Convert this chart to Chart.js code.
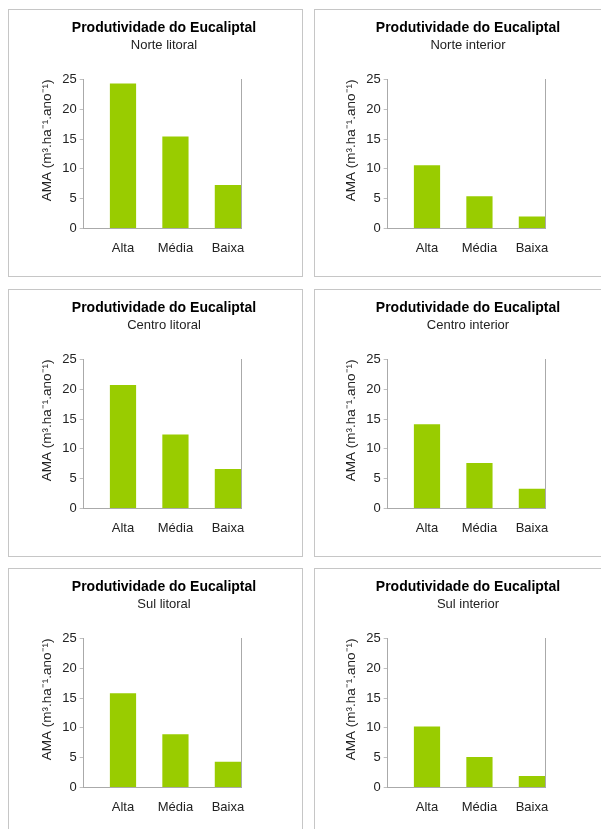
<!DOCTYPE html>
<html>
<head>
<meta charset="utf-8">
<script src="https://cdn.jsdelivr.net/npm/chart.js@4/dist/chart.umd.min.js"></script>
<style>
  body { margin: 0; background: #fff; width: 601px; height: 829px; overflow: hidden; position: relative; }
  .panel { position: absolute; width: 293px; height: 266px; border: 1px solid #c6c6c6; background: #fff; }
  .panel canvas { display: block; }
</style>
</head>
<body>
<div class="panel" style="left:8px;top:9px"><canvas id="c1" width="293" height="266"></canvas></div>
<div class="panel" style="left:314px;top:9px"><canvas id="c2" width="293" height="266"></canvas></div>
<div class="panel" style="left:8px;top:289px"><canvas id="c3" width="293" height="266"></canvas></div>
<div class="panel" style="left:314px;top:289px"><canvas id="c4" width="293" height="266"></canvas></div>
<div class="panel" style="left:8px;top:568px"><canvas id="c5" width="293" height="266"></canvas></div>
<div class="panel" style="left:314px;top:568px"><canvas id="c6" width="293" height="266"></canvas></div>
<script>
// categorias e valores
var categories = ['Alta', 'Média', 'Baixa'];
var chartTitle = 'Produtividade do Eucaliptal';
var yLabel = 'AMA (m³.ha⁻¹.ano⁻¹)';

var norteLitoral = [24.3, 15.4, 7.3];
var norteInterior = [10.6, 5.4, 2.0];
var centroLitoral = [20.7, 12.4, 6.6];
var centroInterior = [14.1, 7.6, 3.3];
var sulLitoral = [15.8, 8.9, 4.3];
var sulInterior = [10.2, 5.1, 1.9];

Chart.defaults.font.family = '"Liberation Sans", Arial, sans-serif';
Chart.defaults.color = '#222';

var axisColor = '#aaaaaa';
var barColor = '#99cc00';

// um gráfico por região; shift desloca a coluna da direita
function makeChart(id, region, values, shift) {
    var ctx = document.getElementById(id);
    return new Chart(ctx, {
        type: 'bar',
        data: {
            datasets: [{
                data: values.map(function (v, i) { return { x: i + 1, y: v }; }),
                backgroundColor: barColor,
                borderWidth: 0,
                barPercentage: 0.5,
                categoryPercentage: 1.0
            }]
        },
        options: {
            responsive: false,
            devicePixelRatio: 1,
            animation: false,
            layout: { padding: { left: 29 - shift, right: 12 + shift, top: 0, bottom: 8 } },
            plugins: {
                legend: { display: false },
                tooltip: { enabled: false },
                title: {
                    display: true,
                    text: chartTitle,
                    color: '#000',
                    font: { size: 14, weight: 'bold' },
                    padding: { top: 10, bottom: 1 }
                },
                subtitle: {
                    display: true,
                    text: region,
                    color: '#222',
                    font: { size: 13 },
                    padding: { top: 0, bottom: 26 }
                }
            },
            scales: {
                x: {
                    type: 'linear',
                    offset: false,
                    min: 0.25,
                    max: 3.25,
                    afterBuildTicks: function (axis) {
                        axis.ticks = categories.map(function (c, i) { return { value: i + 1 }; });
                    },
                    ticks: {
                        padding: 12,
                        maxRotation: 0,
                        autoSkip: false,
                        font: { size: 13 },
                        callback: function (v) { return categories[v - 1]; }
                    },
                    grid: { display: false, drawTicks: false },
                    border: { display: true, color: axisColor }
                },
                y: {
                    min: 0,
                    max: 25,
                    ticks: { stepSize: 5, padding: 3, font: { size: 13 } },
                    grid: { display: true, drawOnChartArea: false, drawTicks: true, tickLength: 4, color: '#c0c0c0' },
                    border: { display: true, color: axisColor },
                    title: {
                        display: true,
                        text: yLabel,
                        align: 'end',
                        font: { size: 13.5 },
                        padding: { top: 1, bottom: 4 }
                    }
                },
                y2: {
                    position: 'right',
                    ticks: { display: false },
                    grid: { display: false, drawTicks: false },
                    border: { display: true, color: axisColor },
                    afterFit: function (axis) { axis.width = 49; }
                }
            }
        }
    });
}

makeChart('c1', 'Norte litoral', norteLitoral, 0);
makeChart('c2', 'Norte interior', norteInterior, 2);
makeChart('c3', 'Centro litoral', centroLitoral, 0);
makeChart('c4', 'Centro interior', centroInterior, 2);
makeChart('c5', 'Sul litoral', sulLitoral, 0);
makeChart('c6', 'Sul interior', sulInterior, 2);
</script>
</body>
</html>
